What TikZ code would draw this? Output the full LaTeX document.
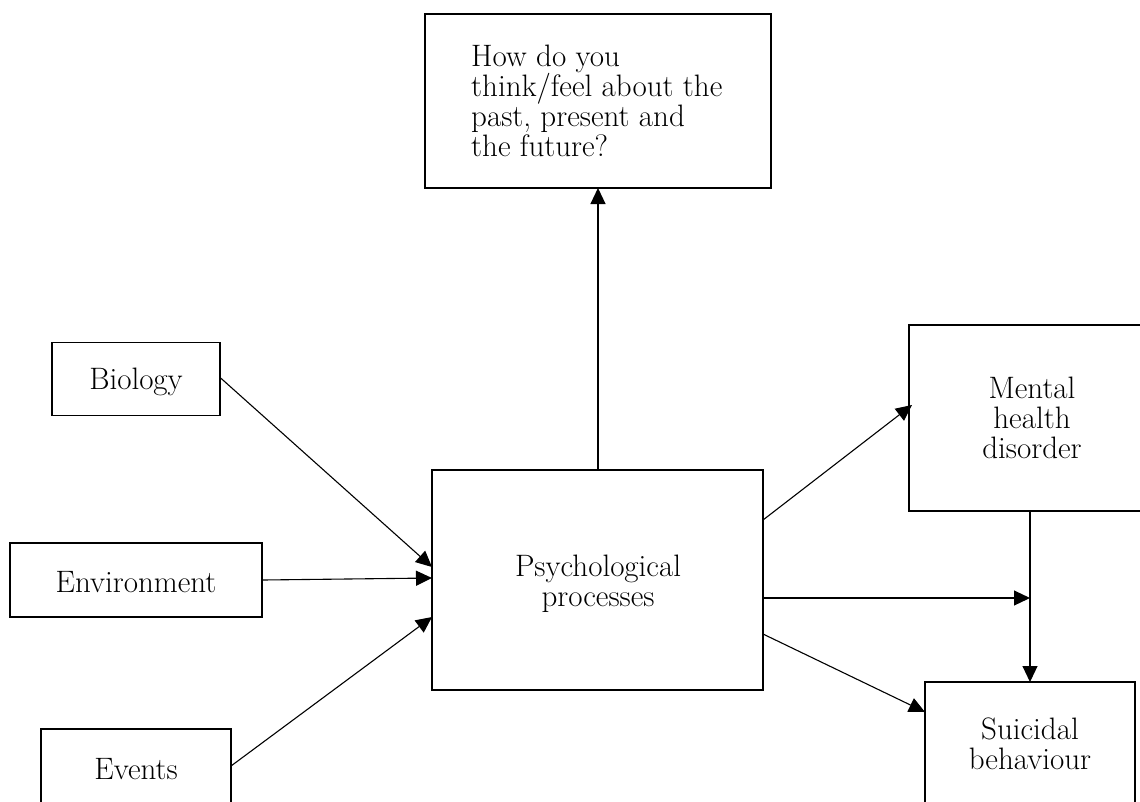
\documentclass[tikz,border=0pt]{standalone}
\usepackage{fontspec}
\usetikzlibrary{arrows.meta}
\begin{document}
\begin{tikzpicture}[x=1pt,y=-1pt,
  box/.style={draw,line width=1.3pt,inner sep=0pt},
  lbl/.style={font=\fontsize{31}{30}\selectfont,align=center},
  arr/.style={line width=1.1pt,-{Triangle[length=16pt,width=15pt]}}]
\useasboundingbox (0,0) rectangle (1140,801);
% boxes
\draw[box] (425,14) rectangle (771,188);
\node[lbl,anchor=north west,align=left,inner sep=0pt] (ttext) at (471,44.5) {How do you\\think/feel about the\\past, present and\\the future?};
\coordinate (top) at (598,188);
\node[box,minimum width=168pt,minimum height=73pt] (bio) at (136,379) {};
\node[lbl] (biot) at (136,382) {Biology};
\node[box,minimum width=252pt,minimum height=74pt] (env) at (136,580) {};
\node[lbl] (envt) at (136,582) {Environment};
\draw[line width=1.3pt] (41,810) -- (41,729) -- (231,729) -- (231,810);
\coordinate (evR) at (231,766);
\node[lbl] (evt) at (136,769) {Events};
\node[box,minimum width=331pt,minimum height=220pt] (psy) at (597.5,580) {};
\node[lbl] (psyt) at (598,584) {Psychological\\processes};
\draw[line width=1.3pt] (1145,325) -- (909,325) -- (909,511) -- (1145,511);
\node[lbl] (mht) at (1032,418) {Mental\\health\\disorder};
\draw[line width=1.3pt] (925,810) -- (925,682) -- (1135,682) -- (1135,810);
\node[lbl] (sbt) at (1030,744) {Suicidal\\behaviour};
\coordinate (mhL) at (912,405);
\coordinate (mhB) at (1030,511);
\coordinate (sbT) at (1030,682);
\coordinate (sbL) at (925,712);
\coordinate (mid) at (1030,598);
% arrows
\draw[arr] (psy.north -| top) -- (top);
\draw[arr] (bio.east) ++(0,-1) -- (432,567);
\draw[arr] (env.east) -- (432,578);
\draw[arr] (evR) -- (432,617);
\draw[arr] (763,520) -- (mhL);
\draw[arr] (763,598) -- (mid);
\draw[arr] (mhB) -- (sbT);
\draw[arr] (763,634) -- (sbL);
\end{tikzpicture}
\end{document}
